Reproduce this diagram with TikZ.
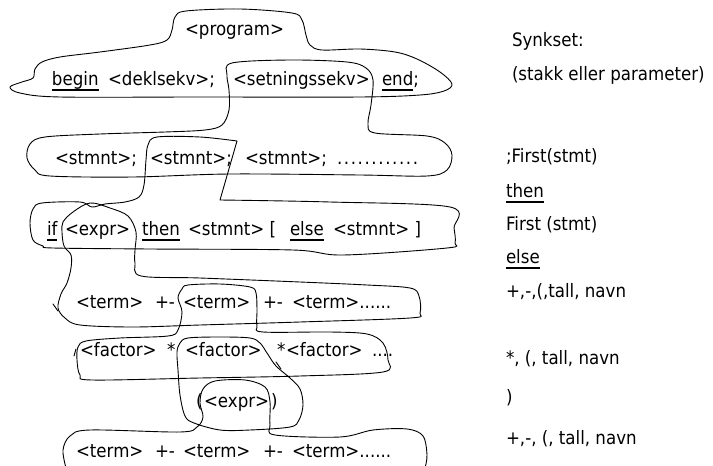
\documentclass[tikz,border=0pt]{standalone}
\usepackage{fontspec}
\setmainfont{DejaVu Sans}[FakeStretch=0.9]
\newsavebox\kwbox
% underlined keyword
\newcommand{\kw}[1]{\sbox\kwbox{#1}\rlap{\rule[-5.5pt]{\wd\kwbox}{1.4pt}}\usebox\kwbox}
% row of spaced dots
\newcommand{\dotrun}{.\kern1.6pt.\kern1.6pt.\kern1.6pt.\kern1.6pt.\kern1.6pt.\kern1.6pt.\kern1.6pt.\kern1.6pt.\kern1.6pt.\kern1.6pt.\kern1.6pt.}
\tikzset{
  tok/.style={anchor=base west, inner sep=0pt, outer sep=0pt, font=\fontsize{18.5}{21}\selectfont},
  loopline/.style={draw=black, line width=0.9pt, line join=round, line cap=round},
}
\begin{document}
\begin{tikzpicture}[x=1pt,y=-1pt]
\useasboundingbox (0,0) rectangle (713,466);

% ---------- grammar rows ----------
\node[tok] (prog) at (185,35) {<program>};

\node[tok] (kbegin) at (52,85) {\kw{begin}};
\node[tok] (dekl) at (108,85) {<deklsekv>;};
\node[tok] (setn) at (233,85) {<setningssekv>};
\node[tok] (kend) at (382,85) {\kw{end};};

\node[tok] (st1) at (55,164) {<stmnt>;};
\node[tok] (st2) at (150,164) {<stmnt>;};
\node[tok] (st3) at (245,164) {<stmnt>;};
\node[tok] (stdots) at (337,164) {\dotrun};

\node[tok] (kif) at (47,235) {\kw{if}};
\node[tok] (ifexpr) at (65,235) {<expr>};
\node[tok] (kthen) at (142,235) {\kw{then}};
\node[tok] (ifst) at (188,235) {<stmnt> [};
\node[tok] (kelse) at (290,235) {\kw{else}};
\node[tok] (elsest) at (333,235) {<stmnt> ]};

\node[tok] (ta1) at (76,308) {<term>};
\node[tok] (pa1) at (155,308) {+-};
\node[tok] (ta2) at (183,308) {<term>};
\node[tok] (pa2) at (263,308) {+-};
\node[tok] (ta3) at (292,308) {<term>......};

\node[tok] (fa1) at (80,356) {<factor>};
\node[tok] (mu1) at (167,356) {*};
\node[tok] (fa2) at (185,356) {<factor>};
\node[tok] (mu2) at (277,356) {*};
\node[tok] (fa3) at (286,356) {<factor>};
\node[tok] (fadots) at (372,356) {....};

\node[tok] (lpar) at (196,407) {(};
\node[tok] (pexpr) at (204,407) {<expr>};
\node[tok] (rpar) at (271,407) {)};

\node[tok] (tb1) at (76,457) {<term>};
\node[tok] (pb1) at (155,457) {+-};
\node[tok] (tb2) at (183,457) {<term>};
\node[tok] (pb2) at (263,457) {+-};
\node[tok] (tb3) at (292,457) {<term>......};

% ---------- synchronisation sets ----------
\node[tok] (syn) at (512,46) {Synkset:};
\node[tok] (synsub) at (512,80) {(stakk eller parameter)};
\node[tok] (s1) at (506,162) {;First(stmt)};
\node[tok] (s2) at (506,197) {\kw{then}};
\node[tok] (s3) at (506,230) {First (stmt)};
\node[tok] (s4) at (506,263) {\kw{else}};
\node[tok] (s5) at (506,297) {+,-,(,tall, navn};
\node[tok] (s6) at (506,364) {*, (, tall, navn};
\node[tok] (s7) at (506,403) {)};
\node[tok] (s8) at (506,444) {+,-, (, tall, navn};

% ---------- hand-drawn loops ----------
% program
\draw[loopline] plot[smooth cycle, tension=0.55] coordinates {
  (10,87) (22,82) (33,78) (35,69) (42,62) (60,57) (100,52) (150,45) (167,40)
  (172,30) (175,17) (186,11) (240,9) (292,13) (302,20) (306,35) (310,45)
  (322,50) (360,49) (395,52) (417,59) (440,72) (452,84) (444,91) (420,95)
  (360,97) (200,97) (60,97) (20,93)};

% setningssekv -> statement list
\draw[loopline] plot[smooth cycle, tension=0.55] coordinates {
  (232,63) (290,60) (347,62) (366,68) (373,80) (371,105) (368,124) (375,133)
  (427,136) (445,143) (452,155) (447,170) (427,176) (360,175) (230,174)
  (133,177) (50,176) (35,170) (27,158) (30,144) (45,137) (100,134) (165,132)
  (205,130) (222,125) (229,110) (229,90) (227,75)};

% stmnt -> if statement
\draw[loopline] plot[smooth, tension=0.55] coordinates {
  (220,200) (330,202) (450,207) (454,228) (455,243) (447,248) (343,255)
  (293,250) (150,249) (53,248) (43,246) (33,240) (30,223) (33,209) (42,203)
  (80,202) (92,207) (105,204) (125,202) (139,197) (144,185) (146,160)
  (148,145) (157,137) (200,137) (237,141)} -- cycle;

% expr -> term list
\draw[loopline] plot[smooth cycle, tension=0.55] coordinates {
  (63,222) (73,212) (90,203) (110,208) (128,216) (136,232) (135,250)
  (135,263) (141,276) (200,278) (300,282) (367,285) (410,288) (419,296)
  (420,313) (410,318) (300,322) (200,325) (133,327) (80,325) (65,318)
  (58,308) (61,294) (67,283) (71,268) (71,255) (64,246) (62,232)};
\draw[loopline] (53,304) -- (58,311);

% term -> factor list
\draw[loopline] plot[smooth cycle, tension=0.55] coordinates {
  (182,289) (188,285) (220,284) (250,287) (256,293) (257,310) (257,326)
  (263,332) (330,332) (367,334) (383,343) (388,360) (383,372) (300,376)
  (200,378) (92,380) (80,375) (77,360) (78,347) (86,341) (120,338)
  (168,336) (178,330) (182,312) (178,298)};
\draw[loopline] (76,349) -- (74,356);

% factor -> parenthesised expr
\draw[loopline] plot[smooth cycle, tension=0.55] coordinates {
  (180,343) (188,338) (220,337) (250,338) (260,343) (267,353) (276,366)
  (290,378) (300,389) (303,405) (299,420) (290,427) (250,430) (220,430)
  (194,423) (185,416) (180,395) (178,370) (177,352)};
\draw[loopline] (276,362) -- (281,369);

% expr -> term list (runs past the lower edge)
\draw[loopline] plot[smooth, tension=0.55] coordinates {
  (66,468) (63,450) (70,436) (90,430) (180,432) (197,427) (203,417)
  (200,403) (203,389) (215,381) (245,380) (265,387) (270,402) (270,425)
  (275,435) (340,437) (373,430) (407,429) (423,436) (427,455) (425,468)};
\end{tikzpicture}
\end{document}
